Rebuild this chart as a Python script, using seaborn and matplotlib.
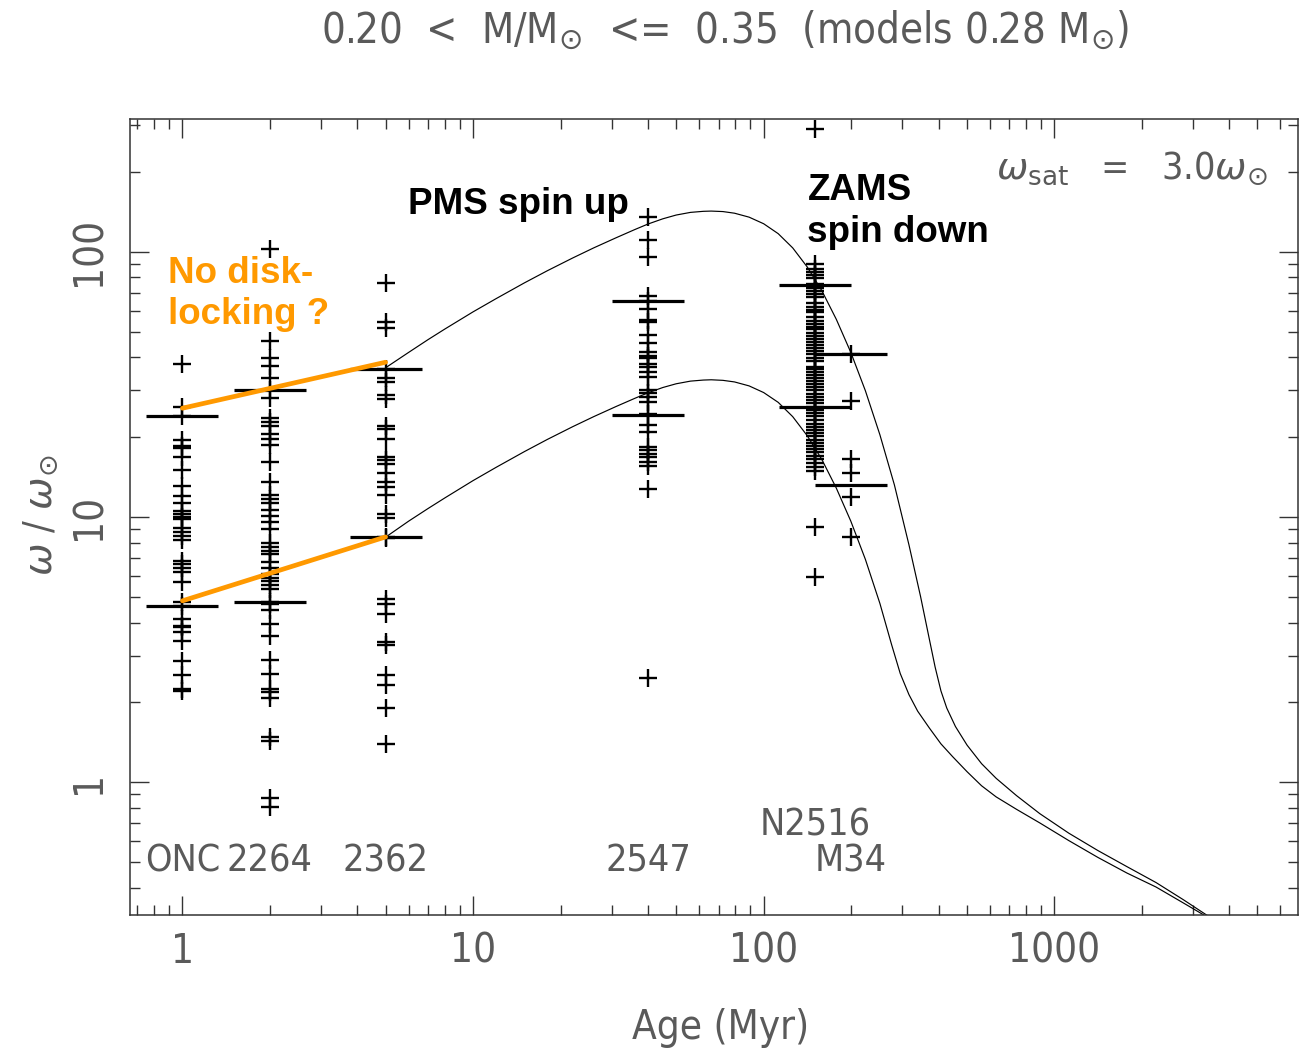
import numpy as np
import pandas as pd
import matplotlib
matplotlib.use("Agg")
import matplotlib.pyplot as plt
import matplotlib.transforms as mtransforms
from matplotlib.ticker import FixedLocator, LogLocator, NullFormatter
import seaborn as sns

# ---------------- data ----------------
cluster_ages = [1, 2, 5, 40, 150, 200]
cluster_names = ["ONC", "2264", "2362", "2547", "N2516", "M34"]

onc = [37.8, 26.0, 24.0, 19.5, 18.5, 18.2, 16.9, 15.0, 13.1, 12.0, 11.3, 10.5,
       10.3, 10.0, 9.8, 9.06, 8.8, 8.5, 8.2, 6.85, 6.66, 6.41, 6.2, 5.71, 4.8,
       4.6, 4.12, 3.89, 3.85, 3.67, 3.40, 2.86, 2.53, 2.25, 2.20]
ngc2264 = [102.5, 46.0, 39.6, 37.1, 33.5, 30.0, 28.1, 23.6, 22.8, 22.1, 20.6,
           19.7, 18.7, 16.1, 13.6, 12.1, 11.7, 11.3, 10.6, 10.1, 9.6, 9.04, 7.98,
           7.73, 7.47, 7.23, 6.76, 6.43, 6.11, 5.91, 5.72, 5.54, 5.35, 4.80, 4.69,
           4.46, 3.96, 3.55, 2.89, 2.57, 2.25, 2.18, 2.07, 1.48, 1.43, 0.87, 0.81]
ngc2362 = [75.9, 54.4, 51.7, 36.2, 33.5, 32.4, 28.7, 27.9, 22.1, 21.4, 19.7,
           16.9, 16.4, 15.8, 14.7, 13.6, 13.0, 12.1, 10.3, 9.9, 8.40, 8.3, 4.92,
           4.69, 4.31, 3.38, 3.30, 2.53, 2.33, 1.90, 1.39]
ngc2547 = [134.6, 110.7, 95.2, 68.3, 65.1, 60.9, 55.4, 54.5, 48.7, 45.2, 41.8,
           40.6, 39.8, 37.8, 36.6, 35.2, 33.7, 30.0, 29.3, 28.3, 27.1, 24.5, 24.2,
           22.2, 20.9, 18.4, 17.9, 17.3, 16.8, 16.1, 15.6, 12.7, 2.48]
n2516 = [290, 90.1, 86.3, 84.1, 82.0, 79.9, 75.8, 73.2, 71.3, 69.5, 67.2, 63.8,
         62.1, 60.5, 59.0, 56.5, 55.0, 53.6, 52.2, 50.9, 49.2, 47.9, 46.7, 45.5,
         44.3, 43.2, 42.1, 41.0, 39.6, 38.6, 36.9, 36.0, 35.1, 34.2, 33.3, 32.5,
         31.6, 30.8, 30.0, 29.0, 28.3, 27.5, 26.8, 25.9, 25.3, 24.6, 24.0, 23.2,
         22.4, 21.8, 21.2, 20.7, 20.2, 19.5, 19.0, 18.5, 18.0, 17.6, 17.0, 16.5,
         16.0, 15.4, 14.9, 9.17, 5.95]
m34 = [41.2, 27.4, 16.5, 14.6, 11.9, 8.4]

pct_hi = [24.0, 30.0, 36.2, 65.1, 74.7, 41.2]
pct_lo = [4.6, 4.8, 8.4, 24.2, 26.0, 13.2]

# rotational evolution models (fast / slow rotators)
fast_age = [5, 6, 7, 8, 10, 12, 15, 18, 22, 26, 31, 36, 40, 45, 50, 56, 62, 66,
            72.4, 79.4, 89.1, 100, 112.2, 125.9, 141.3, 158.5, 177.8, 199.5,
            223.9, 251.2, 281.8, 316.2, 346.7, 371.5, 389.0, 407.4, 426.6,
            457.1, 501.2, 562.3, 631.0, 741.3, 891.3, 1122, 1413, 1778, 2239,
            2780, 3388]
fast_omega = [36.5, 41.7, 46.6, 51.1, 59.3, 66.5, 76.2, 84.7, 94.6, 103.3,
              112.7, 121.1, 127.1, 133.0, 137.4, 140.6, 141.9, 142.2, 141.6,
              139.6, 134.9, 127.4, 116.9, 103.3, 87.5, 71.3, 55.6, 41.7, 29.9,
              20.4, 13.2, 7.85, 5.01, 3.47, 2.72, 2.21, 1.905, 1.622, 1.380,
              1.175, 1.035, 0.891, 0.762, 0.643, 0.553, 0.481, 0.419, 0.361,
              0.313]
slow_age = [5, 6, 7, 8, 10, 12, 15, 18, 22, 26, 31, 36, 40, 45, 50, 56, 62, 66,
            72.4, 79.4, 89.1, 100, 112.2, 125.9, 141.3, 158.5, 177.8, 199.5,
            223.9, 251.2, 275.4, 295.1, 316.2, 338.8, 371.5, 407.4, 446.7,
            501.2, 562.3, 631.0, 741.3, 891.3, 1122, 1413, 1778, 2239, 2780,
            3388]
slow_omega = [8.39, 9.64, 10.76, 11.80, 13.71, 15.38, 17.62, 19.59, 21.88,
              23.88, 26.06, 27.99, 29.38, 30.76, 31.77, 32.51, 32.81, 32.89,
              32.73, 32.28, 31.19, 29.44, 27.04, 23.88, 20.23, 16.48, 12.85,
              9.64, 6.92, 4.72, 3.31, 2.57, 2.14, 1.854, 1.603, 1.396, 1.250,
              1.096, 0.970, 0.881, 0.791, 0.703, 0.603, 0.521, 0.455, 0.403,
              0.351, 0.309]

# "no disk-locking" tracks
nodisk_age = [1, 5]
nodisk_hi = [25.7, 38.3]
nodisk_lo = [4.83, 8.41]

x_ticks = [1, 10, 100, 1000]
x_ticklabels = ["1", "10", "100", "1000"]
y_ticks = [1, 10, 100]
y_ticklabels = ["1", "10", "100"]

# ---------------- style ----------------
sns.set_style("ticks")
plt.rcParams["font.family"] = ["DejaVu Sans"]
plt.rcParams["mathtext.fontset"] = "dejavusans"

THIN = "#5a5a5a"
ORANGE = "#FF9900"
LABEL_KW = dict(color=THIN, fontweight="light", fontstretch="condensed")
BOLD_FAM = ["Liberation Sans", "DejaVu Sans"]

fig = plt.figure(figsize=(13, 10.53), dpi=100)
ax = fig.add_axes([0.1, 0.1311, 0.8985, 0.7559])
ax.set_xscale("log")
ax.set_yscale("log")

groups = [onc, ngc2264, ngc2362, ngc2547, n2516, m34]
df = pd.DataFrame({
    "age": np.concatenate([[a] * len(g) for a, g in zip(cluster_ages, groups)]),
    "omega": np.concatenate(groups),
})
sns.scatterplot(data=df, x="age", y="omega", marker="+", s=185, color="black",
                linewidth=1.7, ax=ax, legend=False, zorder=3)

# percentile bars
ages_arr = np.array(cluster_ages, dtype=float)
for vals in (pct_hi, pct_lo):
    ax.hlines(vals, ages_arr / 1.33, ages_arr * 1.33, color="black",
              linewidth=2.3, zorder=3)

# model curves
model_df = pd.DataFrame({
    "age": fast_age + slow_age,
    "omega": fast_omega + slow_omega,
    "model": ["fast"] * len(fast_age) + ["slow"] * len(slow_age),
})
sns.lineplot(data=model_df, x="age", y="omega", units="model", estimator=None,
             sort=False, color="black", linewidth=0.85, ax=ax, legend=False,
             zorder=2)

# no disk-locking lines
nd_df = pd.DataFrame({
    "age": nodisk_age + nodisk_age,
    "omega": nodisk_hi + nodisk_lo,
    "track": ["hi", "hi", "lo", "lo"],
})
sns.lineplot(data=nd_df, x="age", y="omega", units="track", estimator=None,
             sort=False, color=ORANGE, linewidth=3.4, ax=ax, legend=False,
             zorder=4)

ax.set_xlim(0.66, 6900)
ax.set_ylim(10 ** -0.5, 10 ** 2.5)
ax.set_xlabel("")
ax.set_ylabel("")

ax.xaxis.set_major_locator(FixedLocator(x_ticks))
ax.set_xticklabels(x_ticklabels)
ax.yaxis.set_major_locator(FixedLocator(y_ticks))
ax.set_yticklabels(y_ticklabels)
for axis in (ax.xaxis, ax.yaxis):
    axis.set_minor_locator(LogLocator(base=10, subs=np.arange(2, 10), numticks=30))
    axis.set_minor_formatter(NullFormatter())

ax.tick_params(which="both", direction="in", top=True, right=True,
               color="#333333", width=1.0)
ax.tick_params(which="major", length=14)
ax.tick_params(which="minor", length=7)
ax.tick_params(axis="x", which="major", pad=12, labelsize=29, labelcolor=THIN)
ax.tick_params(axis="y", which="major", pad=15, labelsize=29, labelcolor=THIN,
               labelrotation=90)
for lbl in ax.get_yticklabels():
    lbl.set_va("center")
for lbl in ax.get_xticklabels() + ax.get_yticklabels():
    lbl.set_fontweight("light")
    lbl.set_fontstretch("condensed")

for sp in ax.spines.values():
    sp.set_color("#333333")
    sp.set_linewidth(1.1)

# cluster names
trans = mtransforms.blended_transform_factory(ax.transData, ax.transAxes)
for a, name in zip(cluster_ages, cluster_names):
    yy = 0.113 if name == "N2516" else 0.0666
    ax.text(a, yy, name, transform=trans, ha="center", va="center",
            fontsize=27, **LABEL_KW)

# annotations
ax.text(0.0325, 0.780, "No disk-\nlocking ?", transform=ax.transAxes,
        color=ORANGE, fontsize=26.5, fontweight="bold", family=BOLD_FAM,
        ha="left", va="center", linespacing=1.25)
ax.text(0.238, 0.892, "PMS spin up", transform=ax.transAxes, color="black",
        fontsize=26.5, fontweight="bold", family=BOLD_FAM,
        ha="left", va="center")
ax.text(0.580, 0.884, "ZAMS\nspin down", transform=ax.transAxes, color="black",
        fontsize=26.5, fontweight="bold", family=BOLD_FAM,
        ha="left", va="center", linespacing=1.25)
ax.text(0.974, 0.938, r"$\omega_{\rm sat}$   =   3.0$\omega_{\odot}$",
        transform=ax.transAxes, ha="right", va="center", fontsize=27, **LABEL_KW)

fig.text(0.558, 0.9715,
         r"0.20  <  M/M$_{\odot}$  <=  0.35  (models 0.28 M$_{\odot}$)",
         ha="center", va="center", fontsize=30, **LABEL_KW)
fig.text(0.554, 0.024, "Age (Myr)", ha="center", va="center", fontsize=29,
         **LABEL_KW)
fig.text(0.031, 0.511, r"$\omega$ / $\omega_{\odot}$", rotation=90, ha="center",
         va="center", fontsize=28, **LABEL_KW)

fig.savefig("out.png", dpi=100)
